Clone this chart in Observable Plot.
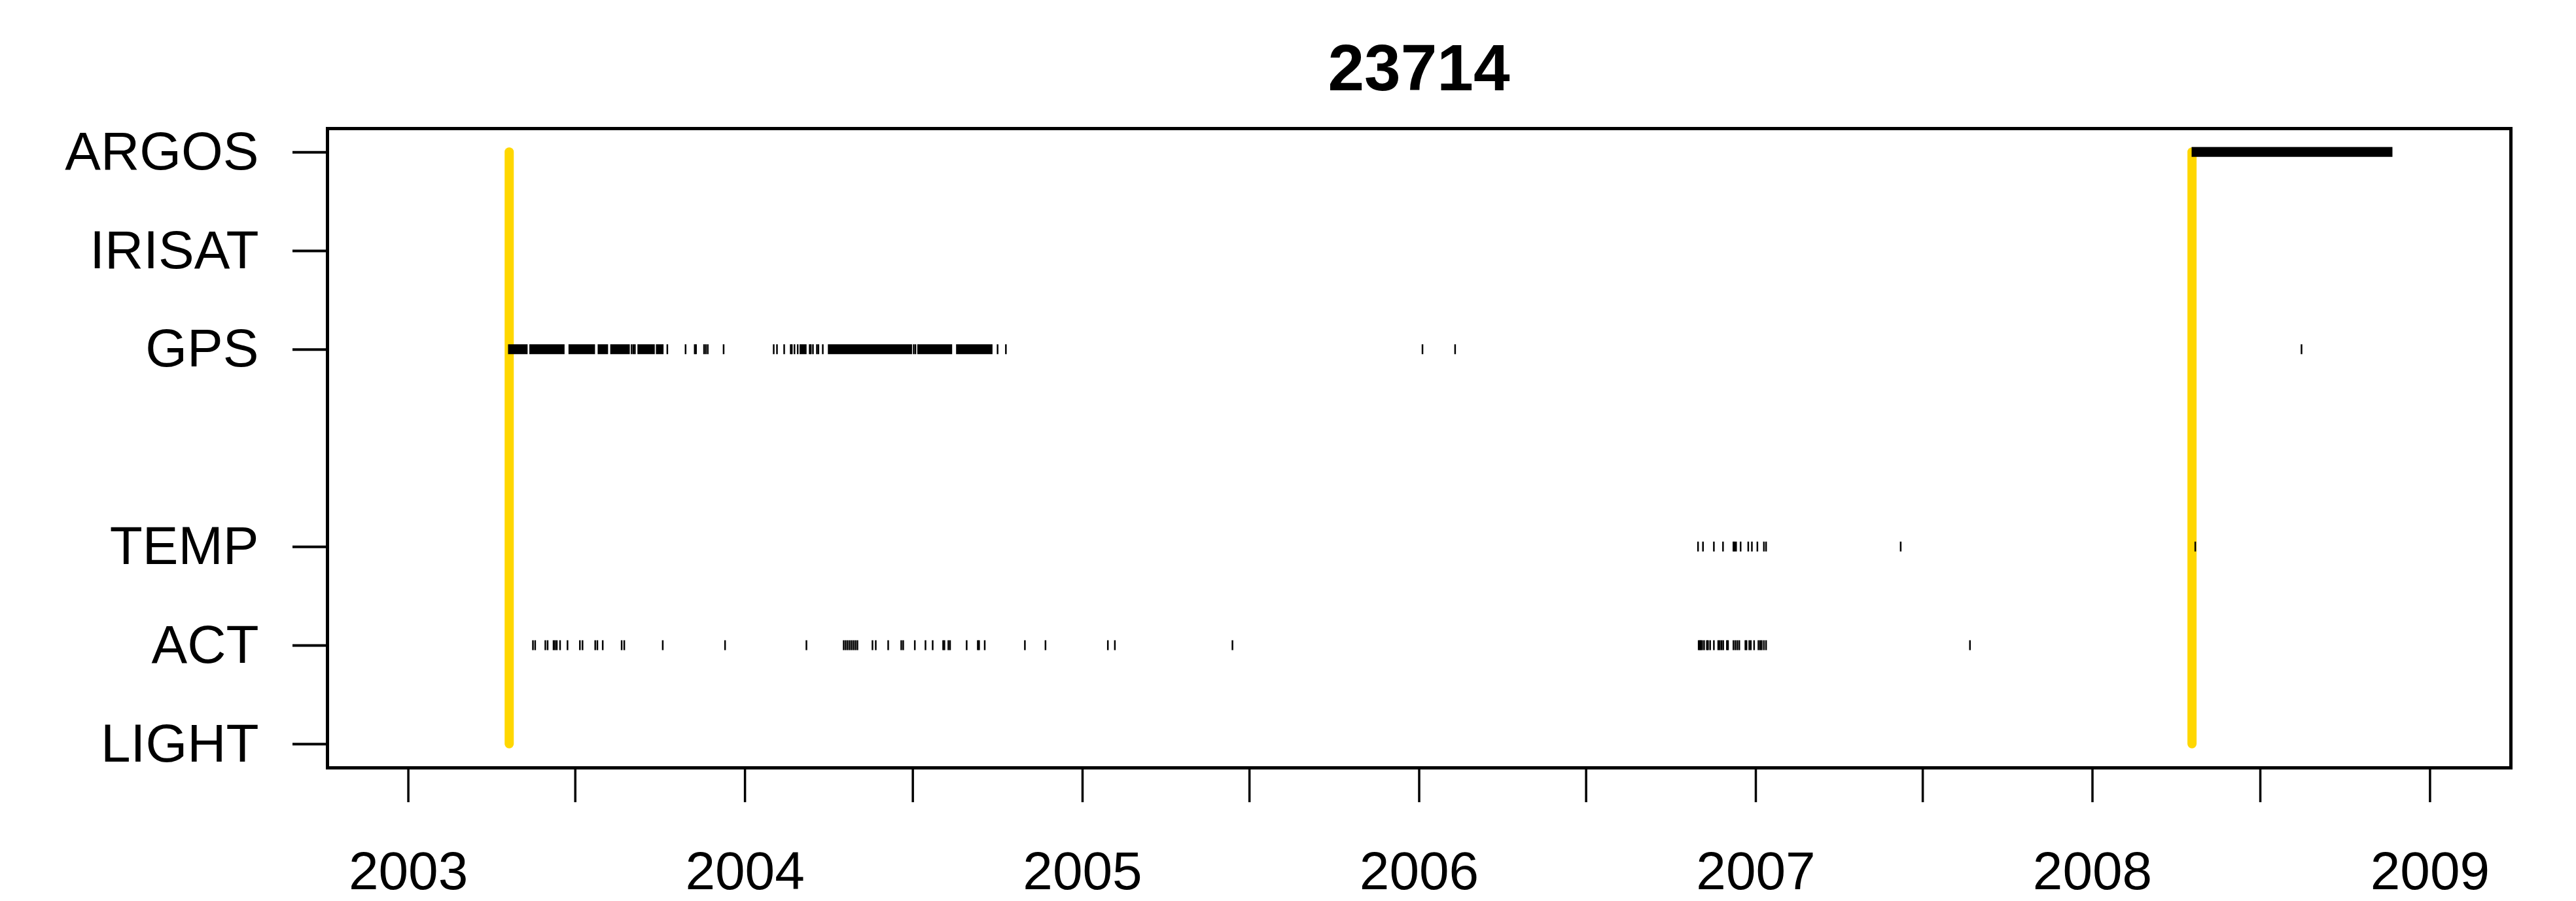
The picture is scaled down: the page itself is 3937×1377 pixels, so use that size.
<!DOCTYPE html>
<html>
<head>
<meta charset="utf-8">
<script src="https://cdn.jsdelivr.net/npm/d3@7"></script>
<script src="https://cdn.jsdelivr.net/npm/@observablehq/plot@0.6"></script>
<style>
  html, body { margin: 0; padding: 0; background: #fff; }
  #wrap { position: relative; width: 3937px; height: 1377px; font-family: "Liberation Sans", Arial, sans-serif; }
  #title { position: absolute; left: 500px; width: 3337px; top: 53px; text-align: center; font-size: 100px; font-weight: bold; line-height: 1; }
  svg { font-family: "Liberation Sans", Arial, sans-serif; }
</style>
</head>
<body>
<div id="wrap"><div id="title">23714</div></div>
<script>
// ---- data (decimal years) ----
const title = "23714";
const rowNames = ["LIGHT", "ACT", "TEMP", "GPS", "IRISAT", "ARGOS"];
const rowPos   = [1, 2, 3, 5, 6, 7];
const xlim = [2003, 2009];

const deployLines = [2003.2996, 2008.2949];

const gpsSpans = [
  [2003.2971, 2003.3552], [2003.3604, 2003.4650], [2003.4767, 2003.5555],
  [2003.5633, 2003.5943], [2003.6007, 2003.6588], [2003.6815, 2003.7330],
  [2003.7363, 2003.7590], [2004.1626, 2004.1834], [2004.2465, 2004.4959],
  [2004.5114, 2004.6147], [2004.6263, 2004.7342]
];
const gpsTicks = [
  2003.6633, 2003.6685, 2003.6730, 2003.7693, 2003.8235, 2003.8507, 2003.8545,
  2003.8784, 2003.8836, 2003.8894, 2003.9365,
  2004.0851, 2004.0948, 2004.1161, 2004.1355, 2004.1388, 2004.1466, 2004.1562,
  2004.1917, 2004.1950, 2004.2014, 2004.2130, 2004.2175, 2004.2305,
  2004.4998, 2004.5050, 2004.7483, 2004.7729,
  2006.0098, 2006.1067, 2008.6193
];
const tempTicks = [
  2006.8283, 2006.8430, 2006.8754, 2006.9025, 2006.9335, 2006.9368, 2006.9413,
  2006.9548, 2006.9775, 2006.9883, 2007.0046, 2007.0240, 2007.0304,
  2007.4303, 2008.3046
];
const actTicks = [
  2003.3701, 2003.3767, 2003.4069, 2003.4137, 2003.4313, 2003.4360, 2003.4410,
  2003.4507, 2003.4728, 2003.5096, 2003.5174, 2003.5551, 2003.5615, 2003.5774,
  2003.6336, 2003.6414, 2003.7557, 2003.9408, 2004.1820,
  2004.2924, 2004.2982, 2004.3040, 2004.3099, 2004.3157, 2004.3215, 2004.3273, 2004.3331,
  2004.3777, 2004.3874, 2004.4242, 2004.4629, 2004.4687, 2004.5031, 2004.5347,
  2004.5560, 2004.5870, 2004.5908, 2004.6025, 2004.6075, 2004.6567, 2004.6897,
  2004.6935, 2004.7102, 2004.8292, 2004.8902, 2005.0752, 2005.0960, 2005.4453,
  2006.8302, 2006.8337, 2006.8366, 2006.8405, 2006.8463, 2006.8546, 2006.8579,
  2006.8643, 2006.8754, 2006.8883, 2006.8928, 2006.8980, 2006.9031, 2006.9141,
  2006.9174, 2006.9335, 2006.9393, 2006.9451, 2006.9509, 2006.9690, 2006.9723,
  2006.9806, 2006.9852, 2006.9949, 2007.0077, 2007.0129, 2007.0174, 2007.0240,
  2007.0304, 2007.6361
];
const argosSpans = [[2008.2947, 2008.8896]];

// ---- helpers ----
function dec2date(y) {
  const yr = Math.floor(y);
  const a = Date.UTC(yr, 0, 1), b = Date.UTC(yr + 1, 0, 1);
  return new Date(a + (y - yr) * (b - a));
}
const rowOf = name => rowPos[rowNames.indexOf(name)];
const half = 0.05; // tick half-height in row units

const ticks = [
  ...gpsTicks.map(t => ({t: dec2date(t), row: rowOf("GPS")})),
  ...tempTicks.map(t => ({t: dec2date(t), row: rowOf("TEMP")})),
  ...actTicks.map(t => ({t: dec2date(t), row: rowOf("ACT")}))
];
const spans = [
  ...gpsSpans.map(([a, b]) => ({a: dec2date(a), b: dec2date(b), row: rowOf("GPS")})),
  ...argosSpans.map(([a, b]) => ({a: dec2date(a), b: dec2date(b), row: rowOf("ARGOS")}))
];
const deploy = deployLines.map(t => ({t: dec2date(t)}));

const x0 = Date.UTC(xlim[0], 0, 1), x1 = Date.UTC(xlim[1], 0, 1);
const ext = (x1 - x0) * 0.04;
const yExt = (rowPos[rowPos.length - 1] - rowPos[0]) * 0.04;

const halfYears = d3.utcMonth.every(6).range(new Date(x0), new Date(x1 + 1));

const chart = Plot.plot({
  width: 3937,
  height: 1377,
  marginLeft: 500,
  marginRight: 100,
  marginTop: 196,
  marginBottom: 204,
  style: {fontFamily: '"Liberation Sans", Arial, sans-serif', background: "white", color: "black"},
  x: {type: "utc", domain: [new Date(x0 - ext), new Date(x1 + ext)]},
  y: {domain: [rowPos[0] - yExt, rowPos[rowPos.length - 1] + yExt]},
  marks: [
    Plot.ruleX(deploy, {x: "t", y1: rowPos[0], y2: rowPos[rowPos.length - 1], stroke: "#FFD700", strokeWidth: 14, strokeLinecap: "round"}),
    Plot.rect(spans, {x1: "a", x2: "b", y1: d => d.row - half, y2: d => d.row + half, fill: "black"}),
    Plot.ruleX(ticks, {x: "t", y1: d => d.row - half, y2: d => d.row + half, stroke: "black", strokeWidth: 2.5}),
    Plot.axisY({ticks: rowPos, tickFormat: v => rowNames[rowPos.indexOf(v)], tickSize: 53, tickPadding: 52, fontSize: 82, strokeWidth: 4, label: null}),
    Plot.axisX({ticks: halfYears, tickFormat: d => d.getUTCMonth() === 0 ? String(d.getUTCFullYear()) : "", tickSize: 53, tickPadding: 74, fontSize: 82, strokeWidth: 3.5, label: null}),
    Plot.frame({stroke: "black", strokeWidth: 5})
  ]
});
document.getElementById("wrap").appendChild(chart);
</script>
</body>
</html>
